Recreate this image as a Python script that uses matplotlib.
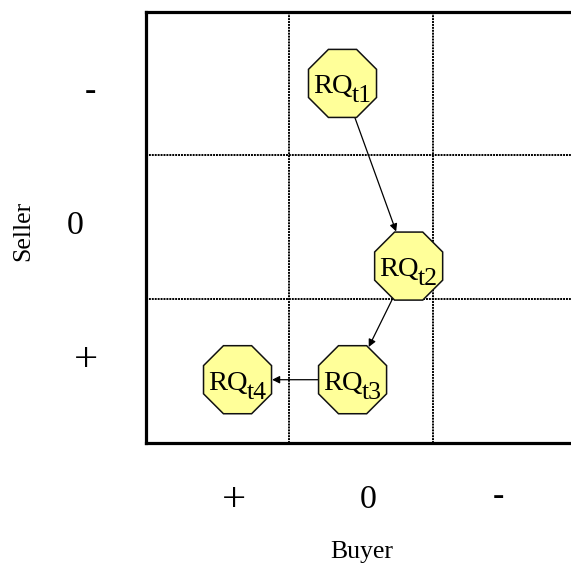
import matplotlib
matplotlib.use("Agg")
import matplotlib.pyplot as plt
from matplotlib.patches import RegularPolygon
from matplotlib.transforms import offset_copy
from matplotlib.textpath import TextPath
from matplotlib.font_manager import FontProperties
import numpy as np

# ---- data ----
buyer_labels = ["+", "0", "-"]          # columns, left to right
seller_labels = ["-", "0", "+"]         # rows, top to bottom
node_main = ["RQ", "RQ", "RQ", "RQ"]
node_sub = ["t1", "t2", "t3", "t4"]
node_x = [1.37, 1.83, 1.44, 0.64]
node_y = [2.50, 1.23, 0.44, 0.44]
edges = [(0, 1), (1, 2), (2, 3)]

FAMILY = ['Liberation Serif', 'DejaVu Serif']
plt.rcParams['font.family'] = FAMILY

DPI = 100
W, H = 571, 570
fig = plt.figure(figsize=(W / DPI, H / DPI), dpi=DPI)
ax = fig.add_axes([145.5 / W, (H - 443) / H, 3 * 143.8 / W, 431.5 / H])
ax.set_xlim(0, 3)
ax.set_ylim(0, 3)
ax.set_xticks([])
ax.set_yticks([])
for s in ["left", "top", "bottom", "right"]:
    ax.spines[s].set_linewidth(2.3)
    ax.spines[s].set_color("black")

# dotted grid lines
for v in [1, 2]:
    ax.axvline(v, color="black", lw=1.4, ls=(0, (1, 0.5)), zorder=1)
    ax.axhline(v, color="black", lw=1.4, ls=(0, (1, 0.5)), zorder=1)

# octagons
polys = []
for x, y in zip(node_x, node_y):
    p = RegularPolygon((x, y), numVertices=8, radius=0.256,
                       orientation=np.pi / 8, facecolor="#FFFF99",
                       edgecolor="#111111", lw=1.1, zorder=3)
    ax.add_patch(p)
    polys.append(p)

# arrows
for a, b in edges:
    ax.annotate("", xy=(node_x[b], node_y[b]), xytext=(node_x[a], node_y[a]),
                arrowprops=dict(arrowstyle="-|>", color="black", lw=0.9,
                                patchA=polys[a], patchB=polys[b],
                                shrinkA=0, shrinkB=0, mutation_scale=11),
                zorder=2)

# labels in octagons
renderer = fig.canvas.get_renderer()
MAIN_FS, SUB_FS = 20.5, 18.5
for x, y, m, s in zip(node_x, node_y, node_main, node_sub):
    t1 = fig.text(0, 0, m, fontsize=MAIN_FS)
    t2 = fig.text(0, 0, s, fontsize=SUB_FS)
    w1 = t1.get_window_extent(renderer).width
    w2 = t2.get_window_extent(renderer).width
    t1.remove(); t2.remove()
    left = -(w1 + w2 - 1) / 2
    ax.text(x, y, m, fontsize=MAIN_FS, ha="left", va="baseline", zorder=4,
            transform=offset_copy(ax.transData, fig=fig, x=left, y=-10, units="dots"))
    ax.text(x, y, s, fontsize=SUB_FS, ha="left", va="baseline", zorder=4,
            transform=offset_copy(ax.transData, fig=fig, x=left + w1 - 1, y=-19, units="dots"))


def ink_text(px, py, s, size, **kw):
    """Place text so that its ink centre lies at pixel (px, py) from top-left."""
    prop = FontProperties(family=FAMILY, size=size)
    ext = TextPath((0, 0), s, size=size, prop=prop).get_extents()
    k = DPI / 72.0
    cx = (ext.x0 + ext.x1) / 2 * k
    cy = (ext.y0 + ext.y1) / 2 * k
    tr = offset_copy(fig.transFigure, fig=fig, x=-cx, y=-cy, units="dots")
    fig.text(px / W, 1 - py / H, s, fontsize=size, ha="left", va="baseline",
             transform=tr, **kw)


def label_size(s):
    return 31 if s == "+" else 24.5


bottom_pos = [(234, 497), (368, 497), (498, 497)]
left_pos = [(90, 92), (75, 223), (86, 357)]
for (px, py), lab in zip(bottom_pos, buyer_labels):
    ink_text(px, py, lab, label_size(lab))
for (px, py), lab in zip(left_pos, seller_labels):
    ink_text(px, py, lab, label_size(lab))

fig.text(362 / W, 1 - 552 / H, "Buyer", fontsize=18.5, ha="center", va="center")
fig.text(23 / W, 1 - 231 / H, "Seller", fontsize=18.5, ha="center", va="center",
         rotation=90)

fig.savefig("out.png", dpi=DPI)
